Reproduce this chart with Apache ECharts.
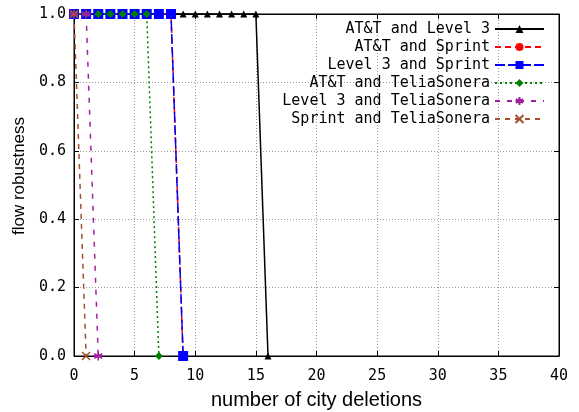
<!DOCTYPE html>
<html>
<head>
<meta charset="utf-8">
<script src="https://cdn.jsdelivr.net/npm/echarts@6/dist/echarts.min.js"></script>
<style>
  html, body { margin: 0; padding: 0; background: #fff; }
  #chart { width: 579px; height: 412px; }
</style>
</head>
<body>
<div id="chart"></div>
<script>
// ---- data (y = flow robustness at 0,1,2,... city deletions) ----
const seriesNames = [
  'AT&T and Level 3',
  'AT&T and Sprint',
  'Level 3 and Sprint',
  'AT&T and TeliaSonera',
  'Level 3 and TeliaSonera',
  'Sprint and TeliaSonera'
];
const attLevel3      = [1, 1, 1, 1, 1, 1, 1, 1, 1, 1, 1, 1, 1, 1, 1, 1, 0];
const attSprint      = [1, 1, 1, 1, 1, 1, 1, 1, 1, 0];
const level3Sprint   = [1, 1, 1, 1, 1, 1, 1, 1, 1, 0];
const attTelia       = [1, 1, 1, 1, 1, 1, 1, 0];
const level3Telia    = [1, 1, 0];
const sprintTelia    = [1, 0];
const xTicks = [0, 5, 10, 15, 20, 25, 30, 35, 40];
const yTicks = [0.0, 0.2, 0.4, 0.6, 0.8, 1.0];

// ---- styling ----
const MONO = 'DejaVu Sans Mono';
const SANS = 'Liberation Sans';
const asterisk = 'path://M0,-1L0,1M-0.87,-0.5L0.87,0.5M0.87,-0.5L-0.87,0.5M-1,0L1,0';
const cross = 'path://M-1,-1L1,1M1,-1L-1,1';

const styles = [
  { color: '#000000', dash: 'solid', symbol: 'triangle', size: 7 },
  { color: '#ff0000', dash: [6, 4], symbol: 'circle', size: 8 },
  { color: '#0000ff', dash: [10, 3], symbol: 'rect', size: 10 },
  { color: '#008000', dash: [2, 3], symbol: 'diamond', size: 8 },
  { color: '#a020a0', dash: [5, 7], symbol: asterisk, size: 9, stroke: true },
  { color: '#a0522d', dash: [5, 5], symbol: cross, size: 8, stroke: true }
];
const values = [attLevel3, attSprint, level3Sprint, attTelia, level3Telia, sprintTelia];

const series = values.map((ys, k) => {
  const s = styles[k];
  return {
    name: seriesNames[k],
    type: 'line',
    data: ys.map((y, i) => [i, y]),
    symbol: s.symbol,
    symbolSize: s.size,
    showSymbol: true,
    clip: false,
    lineStyle: { color: s.color, width: 1.5, type: s.dash },
    itemStyle: s.stroke
      ? { color: s.color, borderColor: s.color, borderWidth: 1.5 }
      : { color: s.color, borderWidth: 0 },
    emphasis: { disabled: true },
    animation: false
  };
});

const chart = echarts.init(document.getElementById('chart'), null, { renderer: 'canvas' });
const axisLbl = { fontFamily: MONO, fontSize: 15, color: '#000' };
const grid = {
  left: 74, right: 20, top: 14, bottom: 56,
  outerBoundsMode: 'none', containLabel: false,
  show: true, borderColor: '#000', borderWidth: 1
};

chart.setOption({
  animation: false,
  backgroundColor: '#fff',
  grid: grid,
  legend: {
    data: seriesNames,
    orient: 'vertical',
    right: 29,
    top: 15,
    align: 'right',
    itemWidth: 49,
    itemHeight: 10,
    itemGap: 0,
    selectedMode: false,
    textStyle: { fontFamily: MONO, fontSize: 15, color: '#000', lineHeight: 18 }
  },
  xAxis: [
    {
      type: 'value', min: xTicks[0], max: xTicks[xTicks.length - 1], interval: 5,
      name: 'number of city deletions', nameLocation: 'middle', nameGap: 34,
      nameTextStyle: { fontFamily: SANS, fontSize: 20, color: '#000' },
      axisLine: { show: true, onZero: false, lineStyle: { color: '#000', width: 1 } },
      axisTick: { show: true, inside: true, length: 5, lineStyle: { color: '#000' } },
      axisLabel: Object.assign({ margin: 13 }, axisLbl),
      splitLine: { show: true, lineStyle: { color: '#999', type: [1, 2], width: 1 } }
    },
    {
      type: 'value', position: 'top', min: xTicks[0], max: xTicks[xTicks.length - 1], interval: 5,
      axisLine: { show: true, onZero: false, lineStyle: { color: '#000', width: 1 } },
      axisTick: { show: true, inside: true, length: 5, lineStyle: { color: '#000' } },
      axisLabel: { show: false },
      splitLine: { show: false }
    }
  ],
  yAxis: [
    {
      type: 'value', min: yTicks[0], max: yTicks[yTicks.length - 1], interval: 0.2,
      name: 'flow robustness', nameLocation: 'middle', nameGap: 46,
      nameTextStyle: { fontFamily: SANS, fontSize: 17, color: '#000', padding: [0, 0, 0, 18] },
      axisLine: { show: true, onZero: false, lineStyle: { color: '#000', width: 1 } },
      axisTick: { show: true, inside: true, length: 5, lineStyle: { color: '#000' } },
      axisLabel: Object.assign({ margin: 8, formatter: v => v.toFixed(1) }, axisLbl),
      splitLine: { show: true, lineStyle: { color: '#999', type: [1, 2], width: 1 } }
    },
    {
      type: 'value', position: 'right', min: yTicks[0], max: yTicks[yTicks.length - 1], interval: 0.2,
      axisLine: { show: true, onZero: false, lineStyle: { color: '#000', width: 1 } },
      axisTick: { show: true, inside: true, length: 5, lineStyle: { color: '#000' } },
      axisLabel: { show: false },
      splitLine: { show: false }
    }
  ],
  series: series
});
</script>
</body>
</html>
